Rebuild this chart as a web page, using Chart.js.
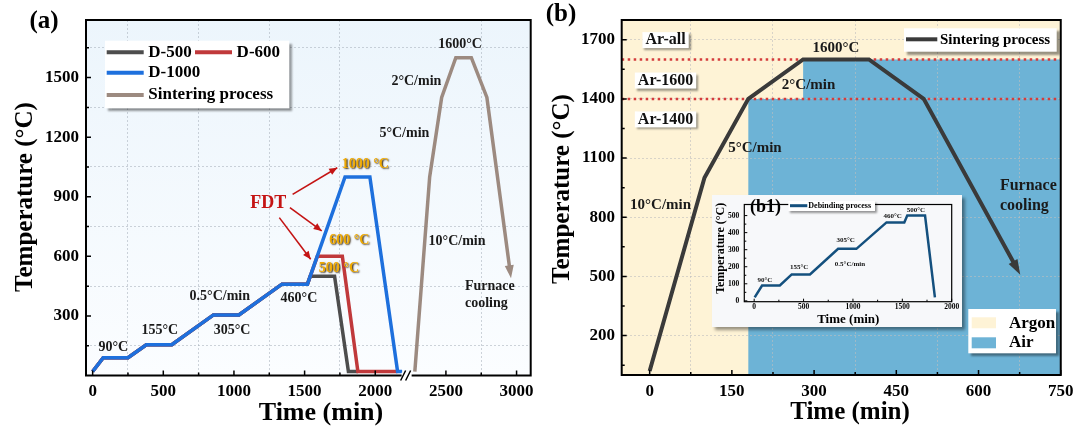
<!DOCTYPE html>
<html>
<head>
<meta charset="utf-8">
<title>Debinding and sintering schedules</title>
<script src="https://cdn.jsdelivr.net/npm/chart.js@4.4.1/dist/chart.umd.min.js"></script>
<style>
  html, body { margin: 0; padding: 0; background: #fff; }
  body { position: relative; width: 1080px; height: 435px; overflow: hidden; }
  canvas { position: absolute; display: block; }
  #chartA { left: 0; top: 0; }
  #chartB { left: 540px; top: 0; }
  #insetBox { position: absolute; left: 712px; top: 195px; width: 250px; height: 132px; background: #f7f8fa; box-shadow: 3px 3px 3px rgba(0,0,0,0.4); }
  #chartB1 { left: 0; top: 0; }
</style>
</head>
<body>
<canvas id="chartA" width="540" height="435"></canvas>
<canvas id="chartB" width="540" height="435"></canvas>
<div id="insetBox"><canvas id="chartB1" width="250" height="132"></canvas></div>
<script>
const SERIF = '"Liberation Serif", "Times New Roman", serif';
const bold = size => `bold ${size}px ${SERIF}`;

// ---- (a) debinding + sintering, time (min) / temperature (°C)
const d500Time  = [0, 75, 250, 380, 560, 855, 1035, 1340, 1520, 1540, 1712, 1810, 1878];
const d500Temp  = [20, 90, 90, 155, 155, 305, 305, 460, 460, 500, 500, 20, 20];
const d600Time  = [0, 75, 250, 380, 560, 855, 1035, 1340, 1520, 1590, 1767, 1877, 2157];
const d600Temp  = [20, 90, 90, 155, 155, 305, 305, 460, 460, 600, 600, 20, 20];
const d1000Time = [0, 75, 250, 380, 560, 855, 1035, 1340, 1520, 1786, 1962, 2158, 2190];
const d1000Temp = [20, 90, 90, 155, 155, 305, 305, 460, 460, 1000, 1000, 20, 20];
const sinterATime = [2280, 2385, 2470, 2570, 2680, 2790, 2955];
const sinterATemp = [20, 1000, 1400, 1600, 1600, 1400, 520];
const axisBreakA = 2222;

const aMajorX = [0, 500, 1000, 1500, 2000, 2500, 3000];
const aMinorX = [250, 750, 1250, 1750, 2750];
const aMajorY = [300, 600, 900, 1200, 1500];
const aMinorY = [150, 450, 750, 1050, 1350, 1650];

const notesA = [
  ['90°C', 146, 144], ['155°C', 475, 228], ['305°C', 987, 228], ['0.5°C/min', 900, 396],
  ['460°C', 1460, 386], ['1600°C', 2600, 1666], ['2°C/min', 2291, 1482],
  ['5°C/min', 2206, 1221], ['10°C/min', 2579, 673]
];
const coolingA = [['Furnace', 2635, 450], ['cooling', 2635, 361]];
const fdtTemps = [['1000 °C', 1930, 1062], ['600 °C', 1816, 681], ['500 °C', 1743, 539]];
const fdtLabel = ['FDT', 1243, 869];
const fdtArrows = [[1415, 912, 1731, 1046], [1396, 845, 1621, 728], [1321, 795, 1543, 585]];

// ---- (b) sintering under argon / air
const sinterBTime = [0, 100, 180, 280, 400, 500, 670];
const sinterBTemp = [20, 1000, 1400, 1600, 1600, 1400, 540];
const airTime = [180, 280, 280, 750];
const airTemp = [1400, 1400, 1600, 1600];
const switchTemps = [1400, 1600];

const bMajorX = [0, 150, 300, 450, 600, 750];
const bMinorX = [75, 225, 375, 525, 675];
const bMajorY = [200, 500, 800, 1100, 1400, 1700];
const bMinorY = [50, 350, 650, 950, 1250, 1550];

const notesB = [['1600°C', 340, 1656], ['2°C/min', 290, 1470], ['5°C/min', 192, 1149], ['10°C/min', 20, 860]];
const coolingB = [['Furnace', 639, 960], ['cooling', 639, 860]];
const gasLabels = [['Ar-all', 29, 1698], ['Ar-1600', 29, 1493], ['Ar-1400', 29, 1296]];

// ---- (b1) debinding inset
const debindTime = [5, 80, 260, 380, 565, 850, 1035, 1340, 1520, 1550, 1730, 1830];
const debindTemp = [20, 90, 90, 155, 155, 305, 305, 460, 460, 500, 500, 20];
const b1MajorX = [0, 500, 1000, 1500, 2000];
const b1MinorX = [250, 750, 1250, 1750];
const b1MajorY = [0, 100, 200, 300, 400, 500];
const b1MinorY = [50, 150, 250, 350, 450];
const notesB1 = [['90°C', 108, 120], ['155°C', 456, 199], ['305°C', 926, 355], ['0.5°C/min', 970, 214], ['460°C', 1402, 497], ['500°C', 1638, 534]];

const pts = (xs, ys) => xs.map((t, i) => ({ x: t, y: ys[i] }));
const series = (label, xs, ys, color, width) => ({
  label, data: pts(xs, ys), borderColor: color, borderWidth: width,
  pointRadius: 0, tension: 0, fill: false
});

function text(ctx, str, px, py, font, color, align = 'center') {
  ctx.font = font;
  ctx.fillStyle = color;
  ctx.textAlign = align;
  ctx.textBaseline = 'middle';
  ctx.fillText(str, px, py);
}

function shadowBox(ctx, x, y, w, h, off) {
  ctx.save();
  ctx.shadowColor = 'rgba(0,0,0,0.4)';
  ctx.shadowOffsetX = off;
  ctx.shadowOffsetY = off;
  ctx.shadowBlur = 2;
  ctx.fillStyle = '#fff';
  ctx.fillRect(x, y, w, h);
  ctx.restore();
}

function arrowHead(ctx, x0, y0, x1, y1, len, half, color) {
  const ang = Math.atan2(y1 - y0, x1 - x0);
  const c = Math.cos(ang), s = Math.sin(ang);
  ctx.fillStyle = color;
  ctx.beginPath();
  ctx.moveTo(x1, y1);
  ctx.lineTo(x1 - len * c + half * s, y1 - len * s - half * c);
  ctx.lineTo(x1 - len * c - half * s, y1 - len * s + half * c);
  ctx.closePath();
  ctx.fill();
}

function vTitle(ctx, str, px, py, font) {
  ctx.save();
  ctx.translate(px, py);
  ctx.rotate(-Math.PI / 2);
  text(ctx, str, 0, 0, font, '#000');
  ctx.restore();
}

// inward tick marks + box frame
const axisFrame = {
  id: 'axisFrame',
  afterDatasetsDraw(chart, args, o) {
    const { ctx, chartArea: a } = chart;
    const { x, y } = chart.scales;
    ctx.save();
    ctx.strokeStyle = '#000';
    ctx.lineWidth = o.tickWidth;
    ctx.beginPath();
    const xs = (vals, len) => vals.forEach(v => {
      const p = x.getPixelForValue(v); ctx.moveTo(p, a.bottom); ctx.lineTo(p, a.bottom - len);
    });
    const ys = (vals, len) => vals.forEach(v => {
      const p = y.getPixelForValue(v); ctx.moveTo(a.left, p); ctx.lineTo(a.left + len, p);
    });
    xs(o.majorX, o.major); xs(o.minorX, o.minor);
    ys(o.majorY, o.major); ys(o.minorY, o.minor);
    ctx.stroke();
    ctx.lineWidth = o.frame;
    ctx.strokeRect(a.left, a.top, a.right - a.left, a.bottom - a.top);
    ctx.restore();
  }
};

function axisScale(min, max, major, minor, gridVals, size, pad, fit, gridColor) {
  return {
    type: 'linear', min, max,
    afterBuildTicks: s => { s.ticks = [...major, ...minor].sort((p, q) => p - q).map(v => ({ value: v })); },
    afterFit: fit,
    ticks: {
      autoSkip: false, maxRotation: 0, padding: pad, color: '#000',
      font: { family: 'Liberation Serif', size, weight: 'bold' },
      callback: v => major.includes(v) ? String(v) : ''
    },
    grid: {
      drawTicks: false, lineWidth: 1,
      color: c => (c.tick && gridVals.includes(c.tick.value)) ? gridColor : 'rgba(0,0,0,0)'
    },
    border: { display: false, dash: [2, 2] }
  };
}

// ---------------- (a)
const decorA = {
  id: 'decorA',
  beforeDraw(chart) {
    const { ctx, chartArea: a } = chart;
    const g = ctx.createLinearGradient(0, a.top, 0, a.bottom);
    g.addColorStop(0, '#ecf5fc');
    g.addColorStop(1, '#fbfdff');
    ctx.save();
    ctx.fillStyle = g;
    ctx.fillRect(a.left, a.top, a.right - a.left, a.bottom - a.top);
    ctx.restore();
  },
  afterDraw(chart) {
    const { ctx, chartArea: a, scales: { x, y } } = chart;
    ctx.save();
    // axis break
    const bp = x.getPixelForValue(axisBreakA);
    ctx.fillStyle = '#fff';
    ctx.fillRect(bp - 5, a.bottom - 3, 10, 6);
    ctx.strokeStyle = '#000';
    ctx.lineWidth = 1.5;
    ctx.beginPath();
    ctx.moveTo(bp - 6, a.bottom + 5); ctx.lineTo(bp - 1, a.bottom - 5);
    ctx.moveTo(bp - 1, a.bottom + 5); ctx.lineTo(bp + 4, a.bottom - 5);
    ctx.stroke();

    // sintering arrow head
    const n = sinterATime.length;
    const x0 = x.getPixelForValue(sinterATime[n - 2]), y0 = y.getPixelForValue(sinterATemp[n - 2]);
    const x1 = x.getPixelForValue(sinterATime[n - 1]), y1 = y.getPixelForValue(sinterATemp[n - 1]);
    const L = Math.hypot(x1 - x0, y1 - y0);
    arrowHead(ctx, x0, y0, x1 + (x1 - x0) / L * 6, y1 + (y1 - y0) / L * 6, 13, 4.5, '#9c8a80');

    // FDT arrows
    ctx.strokeStyle = '#c41414';
    ctx.lineWidth = 1.6;
    fdtArrows.forEach(([xa, ya, xb, yb]) => {
      const p0 = [x.getPixelForValue(xa), y.getPixelForValue(ya)];
      const p1 = [x.getPixelForValue(xb), y.getPixelForValue(yb)];
      ctx.beginPath(); ctx.moveTo(p0[0], p0[1]); ctx.lineTo(p1[0], p1[1]); ctx.stroke();
      arrowHead(ctx, p0[0], p0[1], p1[0], p1[1], 8, 3.5, '#c41414');
    });
    text(ctx, fdtLabel[0], x.getPixelForValue(fdtLabel[1]), y.getPixelForValue(fdtLabel[2]), bold(18), '#c41414');

    // gold FDT temperatures
    ctx.save();
    ctx.shadowColor = 'rgba(45,28,0,0.9)';
    ctx.shadowOffsetX = 1.2; ctx.shadowOffsetY = 1.2; ctx.shadowBlur = 1.5;
    fdtTemps.forEach(([s, tx, ty]) => text(ctx, s, x.getPixelForValue(tx), y.getPixelForValue(ty), bold(14), '#f0aa00'));
    ctx.restore();

    notesA.forEach(([s, tx, ty]) => text(ctx, s, x.getPixelForValue(tx), y.getPixelForValue(ty), bold(14), '#1a1a1a'));
    coolingA.forEach(([s, tx, ty]) => text(ctx, s, x.getPixelForValue(tx), y.getPixelForValue(ty), bold(14), '#1a1a1a', 'left'));

    // legend
    shadowBox(ctx, 105, 40.7, 184.3, 67.6, 3);
    const leg = [
      ['D-500', '#4d4d4d', 106.7, 52.3], ['D-600', '#c0393b', 195, 52.3],
      ['D-1000', '#1e70dd', 106.7, 72.7], ['Sintering process', '#9c8a80', 106.7, 95]
    ];
    ctx.lineWidth = 4;
    leg.forEach(([s, col, lx, ly]) => {
      ctx.strokeStyle = col;
      ctx.beginPath(); ctx.moveTo(lx, ly); ctx.lineTo(lx + 37, ly); ctx.stroke();
      text(ctx, s, lx + 41.6, ly, bold(17), '#000', 'left');
    });

    // titles and panel tag
    vTitle(ctx, 'Temperature (°C)', 26, 197, bold(25));
    text(ctx, 'Time (min)', 321, 413, bold(26), '#000');
    text(ctx, '(a)', 44, 22, bold(25), '#000');
    ctx.restore();
  }
};

new Chart(document.getElementById('chartA'), {
  type: 'line',
  data: {
    datasets: [
      series('D-1000', d1000Time, d1000Temp, '#1e70dd', 3.5),
      series('D-600', d600Time, d600Temp, '#c0393b', 3.5),
      series('D-500', d500Time, d500Temp, '#4d4d4d', 3.5),
      series('Sintering process', sinterATime, sinterATemp, '#9c8a80', 3.5)
    ]
  },
  options: {
    responsive: false,
    animation: false,
    layout: { padding: { left: 0, top: 20, right: 9.3, bottom: 0 } },
    plugins: {
      legend: { display: false },
      tooltip: { enabled: false },
      axisFrame: { majorX: aMajorX, minorX: aMinorX, majorY: aMajorY, minorY: aMinorY, major: 5, minor: 3, tickWidth: 1.5, frame: 2 }
    },
    scales: {
      x: axisScale(-47, 3100, aMajorX, aMinorX, aMinorX, 17, 6, s => { s.height = 59.5; }, 'rgba(165,175,185,0.55)'),
      y: axisScale(0, 1790, aMajorY, aMinorY, aMinorY, 17, 7, s => { s.width = 86; }, 'rgba(165,175,185,0.55)')
    }
  },
  plugins: [decorA, axisFrame]
});

// ---------------- (b)
const decorB = {
  id: 'decorB',
  beforeDraw(chart) {
    const { ctx, chartArea: a, scales: { x, y } } = chart;
    ctx.save();
    ctx.fillStyle = '#fef3d6';
    ctx.fillRect(a.left, a.top, a.right - a.left, a.bottom - a.top);
    ctx.fillStyle = '#6db3d6';
    ctx.beginPath();
    ctx.moveTo(x.getPixelForValue(airTime[0]), a.bottom);
    airTime.forEach((t, i) => ctx.lineTo(x.getPixelForValue(t), y.getPixelForValue(airTemp[i])));
    ctx.lineTo(x.getPixelForValue(airTime[airTime.length - 1]), a.bottom);
    ctx.closePath();
    ctx.fill();
    ctx.restore();
  },
  afterDraw(chart) {
    const { ctx, scales: { x, y } } = chart;
    ctx.save();
    // cooling arrow head
    const n = sinterBTime.length;
    const x0 = x.getPixelForValue(sinterBTime[n - 2]), y0 = y.getPixelForValue(sinterBTemp[n - 2]);
    const x1 = x.getPixelForValue(sinterBTime[n - 1]), y1 = y.getPixelForValue(sinterBTemp[n - 1]);
    const L = Math.hypot(x1 - x0, y1 - y0);
    arrowHead(ctx, x0, y0, x1 + (x1 - x0) / L * 7, y1 + (y1 - y0) / L * 7, 15, 5, '#3a3a3a');

    notesB.forEach(([s, tx, ty]) => text(ctx, s, x.getPixelForValue(tx), y.getPixelForValue(ty), bold(15), '#1a1a1a'));
    coolingB.forEach(([s, tx, ty]) => text(ctx, s, x.getPixelForValue(tx), y.getPixelForValue(ty), bold(16), '#1a1a1a', 'left'));

    // gas atmosphere tags
    gasLabels.forEach(([s, tx, ty]) => {
      const px = x.getPixelForValue(tx), py = y.getPixelForValue(ty);
      ctx.font = bold(16);
      const w = ctx.measureText(s).width + 6;
      shadowBox(ctx, px - w / 2, py - 8, w, 16, 2);
      text(ctx, s, px, py, bold(16), '#111');
    });

    // legend: sintering process
    shadowBox(ctx, 364, 28.3, 152.7, 23.4, 3);
    ctx.strokeStyle = '#3a3a3a';
    ctx.lineWidth = 4;
    ctx.beginPath(); ctx.moveTo(366, 39.3); ctx.lineTo(397.3, 39.3); ctx.stroke();
    text(ctx, 'Sintering process', 400, 40, bold(15), '#000', 'left');

    // legend: atmosphere
    shadowBox(ctx, 428.3, 309, 87.7, 44.3, 3);
    ctx.fillStyle = '#fef3d6'; ctx.fillRect(431.7, 317.3, 24.3, 11);
    ctx.fillStyle = '#6db3d6'; ctx.fillRect(431.7, 337.3, 24.3, 11);
    text(ctx, 'Argon', 469, 323.3, bold(17), '#000', 'left');
    text(ctx, 'Air', 469, 342.7, bold(17), '#000', 'left');

    vTitle(ctx, 'Temperature (°C)', 22.4, 189, bold(25));
    text(ctx, 'Time (min)', 310, 413, bold(25), '#000');
    text(ctx, '(b)', 21, 15, bold(25), '#000');
    ctx.restore();
  }
};

new Chart(document.getElementById('chartB'), {
  type: 'line',
  data: {
    datasets: [
      series('Sintering process', sinterBTime, sinterBTemp, '#3a3a3a', 4),
      ...switchTemps.map(v => ({
        label: 'Ar-' + v, data: pts([-51, 750], [v, v]), borderColor: '#d43c3c', borderWidth: 2.5,
        borderDash: [2.5, 3.5], pointRadius: 0, tension: 0, fill: false
      }))
    ]
  },
  options: {
    responsive: false,
    animation: false,
    layout: { padding: { left: 0, top: 20, right: 15, bottom: 0 } },
    plugins: {
      legend: { display: false },
      tooltip: { enabled: false },
      axisFrame: { majorX: bMajorX, minorX: bMinorX, majorY: bMajorY, minorY: bMinorY, major: 5, minor: 3, tickWidth: 1.5, frame: 2 }
    },
    scales: {
      x: axisScale(-51, 750, bMajorX, bMinorX, bMinorX, 17, 6.5, s => { s.height = 60; }, 'rgba(190,190,190,0.6)'),
      y: axisScale(0, 1800, bMajorY, bMinorY, bMajorY, 17, 6.7, s => { s.width = 81.7; }, 'rgba(190,190,190,0.6)')
    }
  },
  plugins: [decorB, axisFrame]
});

// ---------------- (b1) inset
const decorB1 = {
  id: 'decorB1',
  afterDraw(chart) {
    const { ctx, scales: { x, y } } = chart;
    ctx.save();
    notesB1.forEach(([s, tx, ty]) => text(ctx, s, x.getPixelForValue(tx), y.getPixelForValue(ty), bold(7), '#111'));
    shadowBox(ctx, 76.3, 6, 86.7, 10, 1.5);
    ctx.strokeStyle = '#14507e';
    ctx.lineWidth = 3;
    ctx.beginPath(); ctx.moveTo(78, 10.7); ctx.lineTo(95.3, 10.7); ctx.stroke();
    text(ctx, 'Debinding process', 96.3, 11, bold(8), '#000', 'left');
    text(ctx, '(b1)', 53.5, 12, bold(18), '#000');
    vTitle(ctx, 'Temperature (°C)', 8.7, 53.3, bold(12));
    text(ctx, 'Time (min)', 136.3, 125, bold(13), '#000');
    ctx.restore();
  }
};

new Chart(document.getElementById('chartB1'), {
  type: 'line',
  data: { datasets: [series('Debinding process', debindTime, debindTemp, '#14507e', 2.5)] },
  options: {
    responsive: false,
    animation: false,
    layout: { padding: { left: 0, top: 4, right: 10.3, bottom: 0 } },
    plugins: {
      legend: { display: false },
      tooltip: { enabled: false },
      axisFrame: { majorX: b1MajorX, minorX: b1MinorX, majorY: b1MajorY, minorY: b1MinorY, major: 3, minor: 2, tickWidth: 1, frame: 1.2 }
    },
    scales: {
      x: axisScale(-100, 2000, b1MajorX, b1MinorX, [], 7.5, 1, s => { s.height = 25.3; }, 'rgba(0,0,0,0)'),
      y: axisScale(-5, 565, b1MajorY, b1MinorY, [], 7.5, 5, s => { s.width = 32.3; }, 'rgba(0,0,0,0)')
    }
  },
  plugins: [decorB1, axisFrame]
});
</script>
</body>
</html>
